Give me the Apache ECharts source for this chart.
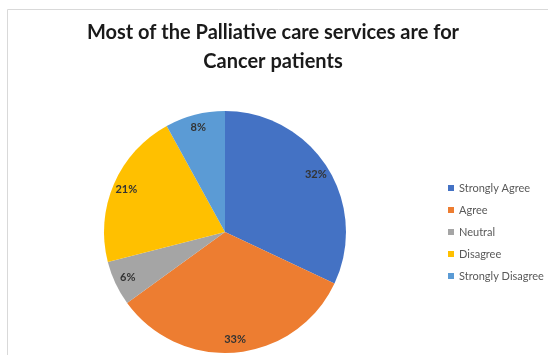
<!DOCTYPE html>
<html>
<head>
<meta charset="utf-8">
<script src="https://cdn.jsdelivr.net/npm/echarts@6/dist/echarts.min.js"></script>
<style>
  html, body { margin: 0; padding: 0; background: #fff; }
  #chart { width: 548px; height: 355px; }
</style>
</head>
<body>
<div id="chart"></div>
<script>
// data
const categories = ["Strongly Agree", "Agree", "Neutral", "Disagree", "Strongly Disagree"];
const shares = [32, 33, 6, 21, 8];
const colors = ["#4472C4", "#ED7D31", "#A5A5A5", "#FFC000", "#5B9BD5"];

const chart = echarts.init(document.getElementById("chart"));

const pieData = categories.map((name, i) => ({
  name: name,
  value: shares[i],
  itemStyle: { color: colors[i] }
}));

const option = {
  animation: false,
  // chart frame like the excel export
  graphic: [
    {
      type: "rect",
      shape: { x: 7.5, y: 9.5, width: 560, height: 360 },
      style: { fill: "none", stroke: "#d9d9d9", lineWidth: 1 },
      silent: true
    }
  ],
  title: {
    text: "Most of the Palliative care services are for\nCancer patients",
    left: 268,
    textAlign: "center",
    top: 13,
    textStyle: {
      fontFamily: "Lato",
      fontSize: 20,
      fontWeight: "bold",
      color: "#1a1a1a",
      lineHeight: 29
    }
  },
  legend: {
    orient: "vertical",
    left: 443,
    top: 176,
    icon: "rect",
    itemWidth: 6,
    itemHeight: 6,
    itemGap: 8,
    textStyle: {
      fontFamily: "Lato",
      fontSize: 11,
      color: "#595959",
      lineHeight: 14
    },
    data: categories
  },
  series: [
    {
      type: "pie",
      center: [225, 232],
      radius: [0, 121],
      startAngle: 90,
      clockwise: true,
      label: { show: false },
      labelLine: { show: false },
      data: pieData
    },
    {
      // transparent ring only used to place labels near the outer edge
      type: "pie",
      center: [225, 232],
      radius: [88, 121],
      startAngle: 90,
      clockwise: true,
      silent: true,
      itemStyle: { color: "rgba(0,0,0,0)" },
      label: {
        show: true,
        position: "inside",
        formatter: "{c}%",
        fontFamily: "Lato",
        fontSize: 11,
        fontWeight: "bold",
        color: "#333333"
      },
      labelLine: { show: false },
      data: categories.map((name, i) => ({ name: name, value: shares[i] }))
    }
  ]
};

chart.setOption(option);
</script>
</body>
</html>
